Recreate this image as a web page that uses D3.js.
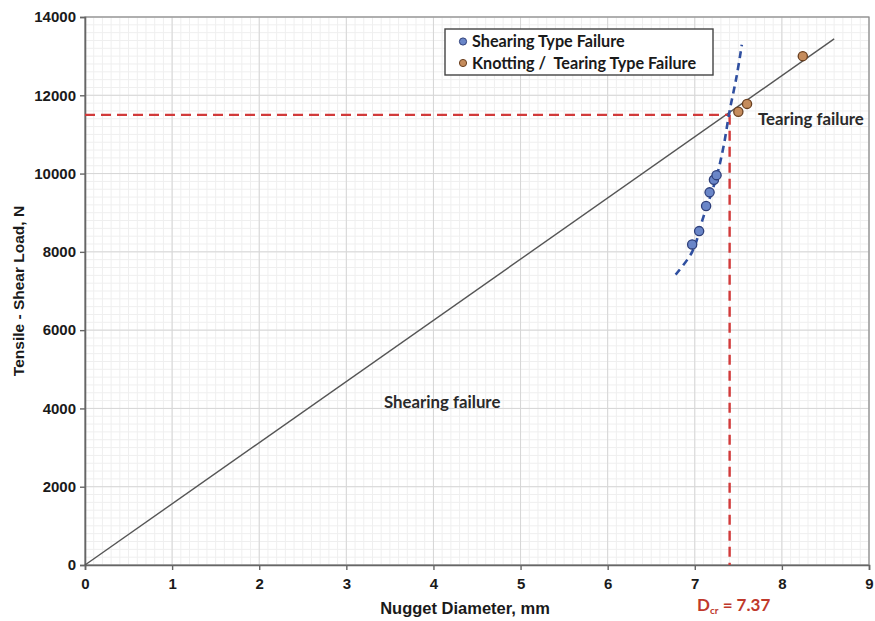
<!DOCTYPE html>
<html><head><meta charset="utf-8">
<script src="https://cdn.jsdelivr.net/npm/d3@7"></script>
<style>
body{margin:0;background:#fff;}
svg{display:block;font-family:"Liberation Sans",Arial,sans-serif;}
</style></head>
<body><svg id="c" width="875" height="621"></svg>
<script>
// ---- data ----
const xTicks = [0,1,2,3,4,5,6,7,8,9];
const yTicks = [0,2000,4000,6000,8000,10000,12000,14000];
const shearingX = [6.97, 7.05, 7.13, 7.17, 7.22, 7.25];
const shearingY = [8190, 8530, 9170, 9520, 9840, 9960];
const tearingX = [7.50, 7.60, 8.24];
const tearingY = [11580, 11780, 13000];
const fitLineX = [0, 8.60];
const fitLineY = [0, 13440];
const curveX = [6.78, 6.97, 7.10, 7.25, 7.33, 7.40, 7.48, 7.54];
const curveY = [7420, 8000, 8900, 9920, 10690, 11600, 12480, 13290];
const criticalD = 7.40;      // position of vertical dashed line
const criticalLoad = 11500;  // horizontal dashed line
const dcrText = "7.37";

// ---- layout ----
const svg = d3.select("#c");
const L = 85, R = 869, T = 17, B = 565;
const x = d3.scaleLinear().domain([0,9]).range([L,R]);
const y = d3.scaleLinear().domain([0,14000]).range([B,T]);

// minor grid
const g = svg.append("g");
g.selectAll(".mx").data(d3.range(0,9.001,0.1)).join("line")
  .attr("x1",d=>x(d)).attr("x2",d=>x(d)).attr("y1",T).attr("y2",B)
  .attr("stroke","#efefef").attr("stroke-width",1);
g.selectAll(".my").data(d3.range(0,14001,200)).join("line")
  .attr("y1",d=>y(d)).attr("y2",d=>y(d)).attr("x1",L).attr("x2",R)
  .attr("stroke","#efefef").attr("stroke-width",1);
// major grid
g.selectAll(".Mx").data(xTicks).join("line")
  .attr("x1",d=>x(d)).attr("x2",d=>x(d)).attr("y1",T).attr("y2",B)
  .attr("stroke","#d6d6d6").attr("stroke-width",1);
g.selectAll(".My").data(yTicks).join("line")
  .attr("y1",d=>y(d)).attr("y2",d=>y(d)).attr("x1",L).attr("x2",R)
  .attr("stroke","#d6d6d6").attr("stroke-width",1);
// frame top/right
svg.append("rect").attr("x",L).attr("y",T).attr("width",R-L).attr("height",B-T)
  .attr("fill","none").attr("stroke","#8a8a8a").attr("stroke-width",1.2);

// axes
const xAxis = svg.append("g").attr("transform",`translate(0,${B})`)
  .call(d3.axisBottom(x).tickValues(xTicks).tickFormat(d3.format("d")).tickSize(5).tickPadding(8));
const yAxis = svg.append("g").attr("transform",`translate(${L},0)`)
  .call(d3.axisLeft(y).tickValues(yTicks).tickFormat(d3.format("d")).tickSize(5).tickPadding(4));
[xAxis,yAxis].forEach(a=>{
  a.select(".domain").attr("stroke","#666").attr("stroke-width",1.6);
  a.selectAll(".tick line").attr("stroke","#666").attr("stroke-width",1.4);
  a.selectAll(".tick text").attr("fill","#1a1a1a").attr("font-size",15)
   .attr("font-weight","bold").attr("font-family","'Liberation Sans',Arial,sans-serif");
});

// axis titles
svg.append("text").attr("x",465).attr("y",614).attr("text-anchor","middle")
  .attr("font-size",16.5).attr("font-weight","bold").attr("fill","#1a1a1a")
  .text("Nugget Diameter, mm");
svg.append("text").attr("transform","translate(24,291) rotate(-90)").attr("text-anchor","middle")
  .attr("font-size",15.5).attr("font-weight","bold").attr("fill","#1a1a1a")
  .text("Tensile - Shear Load, N");

// fit line
svg.append("line").attr("x1",x(fitLineX[0])).attr("y1",y(fitLineY[0]))
  .attr("x2",x(fitLineX[1])).attr("y2",y(fitLineY[1]))
  .attr("stroke","#555").attr("stroke-width",1.4);

// red dashed critical lines
const red = "#d13a3a";
svg.append("line").attr("x1",x(0)).attr("x2",x(criticalD)).attr("y1",y(criticalLoad)).attr("y2",y(criticalLoad))
  .attr("stroke",red).attr("stroke-width",2.4).attr("stroke-dasharray","10,6");
svg.append("line").attr("x1",x(criticalD)).attr("x2",x(criticalD)).attr("y1",y(criticalLoad)).attr("y2",y(0))
  .attr("stroke",red).attr("stroke-width",2.4).attr("stroke-dasharray","10,6");

// blue dashed curve
const curvePts = curveX.map((d,i)=>[d,curveY[i]]);
svg.append("path").datum(curvePts)
  .attr("d",d3.line().x(d=>x(d[0])).y(d=>y(d[1])).curve(d3.curveCatmullRom))
  .attr("fill","none").attr("stroke","#2f4fa0").attr("stroke-width",2.6).attr("stroke-dasharray","7,5");

// points
const sh = shearingX.map((d,i)=>[d,shearingY[i]]);
const te = tearingX.map((d,i)=>[d,tearingY[i]]);
svg.selectAll(".sp").data(sh).join("circle")
  .attr("cx",d=>x(d[0])).attr("cy",d=>y(d[1])).attr("r",4.6)
  .attr("fill","#6a86c8").attr("stroke","#2e3f7a").attr("stroke-width",1.3);
svg.selectAll(".tp").data(te).join("circle")
  .attr("cx",d=>x(d[0])).attr("cy",d=>y(d[1])).attr("r",4.6)
  .attr("fill","#c58c5c").attr("stroke","#6a4020").attr("stroke-width",1.3);

// region labels
const lab = "'Lato','Open Sans',sans-serif";
svg.append("text").attr("x",384).attr("y",408).attr("font-family",lab)
  .attr("font-size",16.8).attr("font-weight","bold").attr("fill","#2a2a2a").text("Shearing failure");
svg.append("text").attr("x",758).attr("y",125).attr("font-family",lab)
  .attr("font-size",16.8).attr("font-weight","bold").attr("fill","#2a2a2a").text("Tearing failure");

// Dcr label
const dt = svg.append("text").attr("x",697).attr("y",611).attr("fill","#c0392b")
  .attr("font-family",lab).attr("font-weight","bold").attr("font-size",17);
dt.append("tspan").text("D");
dt.append("tspan").attr("font-size",10).attr("dy",3).text("cr");
dt.append("tspan").attr("dy",-3).text(" = " + dcrText);

// legend
const lg = svg.append("g");
lg.append("rect").attr("x",445).attr("y",29).attr("width",268).attr("height",46)
  .attr("fill","#fff").attr("stroke","#444").attr("stroke-width",1.4);
const legendItems = [
  {label:"Shearing Type Failure", fill:"#6a86c8", stroke:"#2e3f7a"},
  {label:"Knotting /  Tearing Type Failure", fill:"#c58c5c", stroke:"#6a4020"}
];
legendItems.forEach((it,i)=>{
  const yy = 41.5 + i*21.5;
  lg.append("circle").attr("cx",463).attr("cy",yy).attr("r",3.6)
    .attr("fill",it.fill).attr("stroke",it.stroke).attr("stroke-width",1);
  lg.append("text").attr("x",472).attr("y",yy+5.5).attr("font-family",lab)
    .attr("font-size",16.2).attr("font-weight","bold").attr("fill","#1a1a1a")
    .attr("xml:space","preserve").text(it.label);
});
</script></body></html>
